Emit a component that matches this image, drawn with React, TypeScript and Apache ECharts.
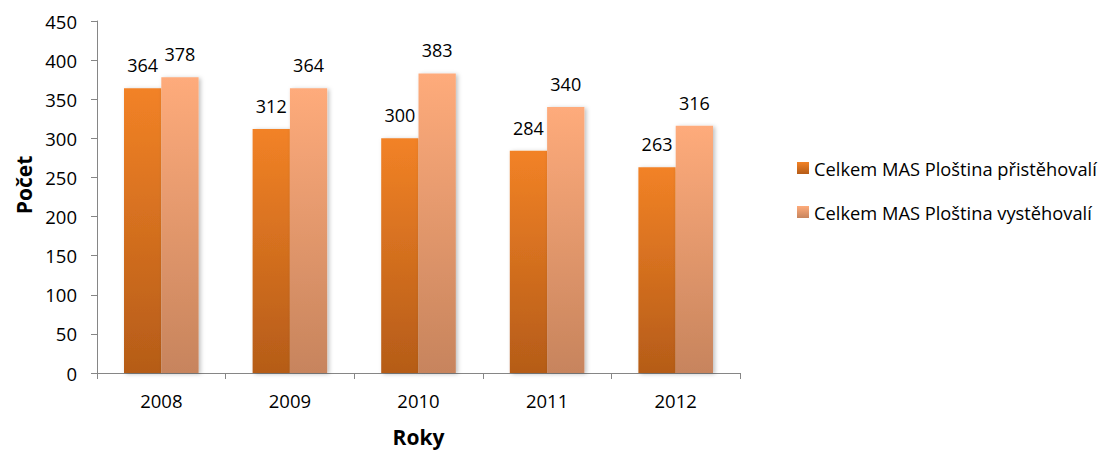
import React, { useEffect, useRef } from "react";
import * as echarts from "echarts";

const years = ["2008", "2009", "2010", "2011", "2012"];
const immigrants = [364, 312, 300, 284, 263];
const emigrants = [378, 364, 383, 340, 316];
const seriesNames = ["Celkem MAS Ploština přistěhovalí", "Celkem MAS Ploština vystěhovalí"];

const FONT = "'Open Sans', 'Noto Sans', sans-serif";

export default function App() {
  const ref = useRef<HTMLDivElement>(null);
  useEffect(() => {
    if (!ref.current) return;
    const chart = echarts.init(ref.current, undefined, { renderer: "svg" });
    const grad = (top: string, bottom: string) =>
      new echarts.graphic.LinearGradient(0, 0, 0, 1, [
        { offset: 0, color: top },
        { offset: 1, color: bottom },
      ]);
    const label = {
      show: true,
      position: "top" as const,
      distance: 14,
      color: "#000",
      fontSize: 18,
      fontFamily: FONT,
    };
    chart.setOption({
      animation: false,
      textStyle: { fontFamily: FONT },
      grid: {
        left: 97,
        right: 364,
        top: 21,
        bottom: 77,
        containLabel: false,
        outerBoundsMode: "none",
      },
      legend: {
        orient: "vertical",
        left: 792,
        top: 154,
        itemWidth: 12,
        itemHeight: 12,
        itemGap: 26,
        icon: "rect",
        textStyle: { fontSize: 18.3, color: "#000", fontFamily: FONT },
        data: seriesNames,
      },
      xAxis: {
        type: "category",
        data: years,
        name: "Roky",
        nameLocation: "middle",
        nameGap: 53,
        nameTextStyle: { fontSize: 21, fontWeight: "bold", color: "#000", fontFamily: FONT },
        axisLine: { lineStyle: { color: "#868686" } },
        axisTick: { show: true, length: 6, lineStyle: { color: "#868686" } },
        axisLabel: { margin: 18, fontSize: 18.5, color: "#000", fontFamily: FONT },
      },
      yAxis: {
        type: "value",
        min: 0,
        max: 450,
        interval: 50,
        name: "Počet",
        nameLocation: "middle",
        nameGap: 63,
        nameTextStyle: {
          fontSize: 21,
          fontWeight: "bold",
          color: "#000",
          fontFamily: FONT,
          padding: [0, 0, 0, 24],
        },
        axisLine: { show: true, lineStyle: { color: "#868686" } },
        axisTick: { show: true, length: 6, lineStyle: { color: "#868686" } },
        splitLine: { show: false },
        axisLabel: { margin: 20, fontSize: 18.5, color: "#000", fontFamily: FONT },
      },
      series: [
        {
          name: seriesNames[0],
          type: "bar",
          data: immigrants,
          barGap: "0%",
          barCategoryGap: "42%",
          itemStyle: {
            color: grad("#F28226", "#B55C18"),
            shadowBlur: 4,
            shadowColor: "rgba(0,0,0,0.25)",
            shadowOffsetX: 2,
            shadowOffsetY: 1,
          },
          label,
        },
        {
          name: seriesNames[1],
          type: "bar",
          data: emigrants,
          barGap: "0%",
          barCategoryGap: "42%",
          itemStyle: {
            color: grad("#FEAB7B", "#C7845D"),
            shadowBlur: 4,
            shadowColor: "rgba(0,0,0,0.25)",
            shadowOffsetX: 2,
            shadowOffsetY: 1,
          },
          label,
        },
      ],
    });
    return () => chart.dispose();
  }, []);
  return (
    <div
      ref={ref}
      style={{ position: "absolute", left: 0, top: 0, width: 1104, height: 450 }}
    />
  );
}
